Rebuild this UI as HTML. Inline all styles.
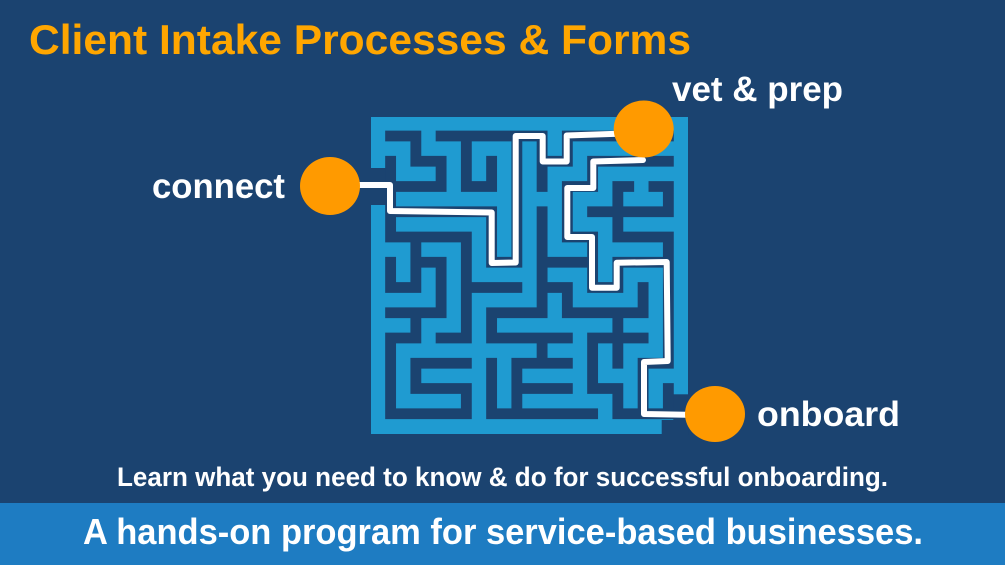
<!DOCTYPE html>
<html>
<head>
<meta charset="utf-8">
<style>
html,body{margin:0;padding:0;background:#1b4370;}
svg{display:block;}
text{font-family:"Liberation Sans",sans-serif;font-weight:bold;}
</style>
</head>
<body>
<svg width="1005" height="565" viewBox="0 0 1005 565" xmlns="http://www.w3.org/2000/svg">
<rect width="1005" height="565" fill="#1b4370"/>
<rect x="0" y="503" width="1005" height="62" fill="#1e7cc2"/>
<rect x="371" y="117" width="317" height="317" fill="#1f9bd1"/>
<rect x="371" y="168" width="25" height="37" fill="#1b4370"/>
<rect x="673.3" y="394.3" width="15" height="40" fill="#1b4370"/>
<rect x="661.7" y="420" width="27" height="15" fill="#1b4370"/>
<g transform="translate(390.6 136) scale(25.25)" fill="none" stroke="#1b4370" stroke-width="0.43" stroke-linecap="square" stroke-linejoin="miter">
<path d="M0 0H1V1H2V2H0M0 1V4M0 5V6H1V4M0 3H4V5H5V0H2M3 0V2H4V1M0 4H3M5 0H6V2M6 0V1H7V0H11M8 1H11M8 1V2H7V4H8V6H9V5H11M6 3V7M6 5H8M6 6H7V7M4 7H6M7 7H10V6M9 2H9.43M10.43 2H11V3M8 3H11M9 2V4H11V9H10V11M9 11H11M11 10V11M9 11V10H8V8H10M9 7V9M1 5H2V7H0M1 7V8H0V11H3V10H1V9H3M2 8H3V4M3 6H5M4 7V8H7M4 9V11H8M5 9H7M6 8V9M5 9V11M5 10H7"/>
</g>
<g fill="none" stroke="#fff" stroke-width="6" stroke-linejoin="round" stroke-linecap="round">
<path d="M358 185H390V211L491.7 212.5V263L515.7 262.5V136H542.7V161.5H566.7V135.5L625 133.5"/>
<path d="M643 160L593.3 161.5V188H567.3V237H592V287.7H616.7V262.7L666.7 262L667.7 361L644 362V414L700 415"/>
</g>
<ellipse cx="330" cy="186" rx="30" ry="29" fill="#ff9a00"/>
<ellipse cx="643.7" cy="129" rx="30" ry="28.5" fill="#ff9a00"/>
<ellipse cx="715" cy="414" rx="30" ry="28" fill="#ff9a00"/>
<text x="29" y="54" font-size="42" fill="#ffa600" textLength="662" lengthAdjust="spacingAndGlyphs">Client Intake Processes &amp; Forms</text>
<text x="672" y="101" font-size="35" fill="#fff" textLength="171" lengthAdjust="spacingAndGlyphs">vet &amp; prep</text>
<text x="152" y="198" font-size="35" fill="#fff" textLength="133" lengthAdjust="spacingAndGlyphs">connect</text>
<text x="757" y="426" font-size="35" fill="#fff" textLength="143" lengthAdjust="spacingAndGlyphs">onboard</text>
<text x="117" y="486" font-size="27" fill="#fff" textLength="771" lengthAdjust="spacingAndGlyphs">Learn what you need to know &amp; do for successful onboarding.</text>
<text x="83" y="544" font-size="36" fill="#fff" textLength="840" lengthAdjust="spacingAndGlyphs">A hands-on program for service-based businesses.</text>
</svg>
</body>
</html>
